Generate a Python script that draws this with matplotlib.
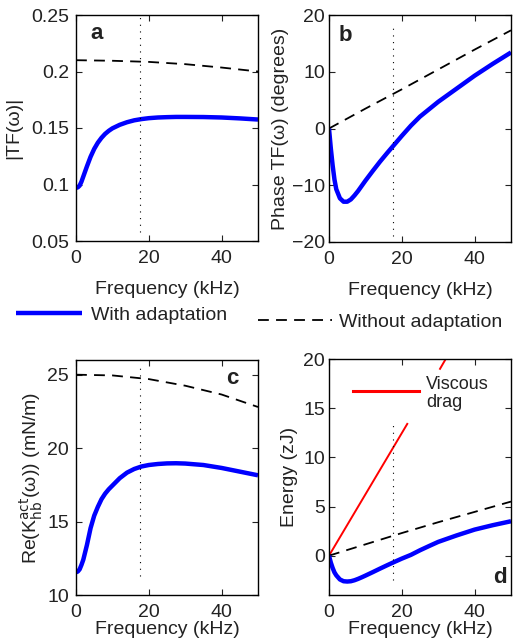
import numpy as np
import matplotlib
matplotlib.use('Agg')
import matplotlib.pyplot as plt

plt.rcParams['font.family'] = ['Liberation Sans', 'DejaVu Sans']
plt.rcParams['font.size'] = 14
plt.rcParams['text.color'] = '#222222'
plt.rcParams['axes.labelcolor'] = '#222222'
plt.rcParams['xtick.color'] = '#222222'
plt.rcParams['ytick.color'] = '#222222'

# frequencies (kHz)
f_blue = [0, 0.5, 1, 1.5, 2, 3, 4, 5, 6, 7, 8, 9, 10, 12, 14, 16, 18, 20,
          22.5, 25, 27.5, 30, 35, 40, 45, 50]
f_dash = [0, 10, 20, 30, 40, 50]
f_cut = 17.5

# a: |TF|
tf_mag_adapt = [0.097, 0.0975, 0.099, 0.1025, 0.107, 0.116, 0.1245, 0.1315, 0.137,
                0.1413, 0.1448, 0.1475, 0.1497, 0.1528, 0.1551, 0.1568, 0.1579,
                0.1587, 0.1593, 0.1596, 0.1598, 0.1598, 0.1597, 0.1593, 0.1585, 0.1575]
tf_mag_noadapt = [0.210, 0.2095, 0.2085, 0.2065, 0.2035, 0.200]

# b: phase TF (degrees)
tf_phase_adapt = [0, -3.5, -6.5, -9.0, -10.7, -12.3, -12.9, -12.9, -12.5, -11.8,
                  -11.0, -10.1, -9.2, -7.5, -5.85, -4.3, -2.8, -1.3, 0.5, 2.1,
                  3.4, 4.7, 7.0, 9.3, 11.4, 13.4]
tf_phase_noadapt = [0, 3.5, 6.9, 10.4, 13.9, 17.3]

# c: Re(K_hb^act) (mN/m)
k_adapt = [11.55, 11.6, 11.75, 12.05, 12.4, 13.4, 14.55, 15.4, 16.0, 16.52, 16.9,
           17.2, 17.45, 17.95, 18.33, 18.58, 18.75, 18.85, 18.92, 18.96, 18.97,
           18.95, 18.85, 18.65, 18.4, 18.15]
k_noadapt = [25.0, 24.95, 24.7, 24.25, 23.65, 22.8]

# d: energy (zJ)
e_adapt = [0, -0.7, -1.25, -1.7, -2.0, -2.42, -2.6, -2.63, -2.6, -2.5, -2.36,
           -2.2, -2.03, -1.68, -1.32, -0.97, -0.63, -0.3, 0.08, 0.55, 0.98,
           1.4, 2.05, 2.65, 3.1, 3.5]
e_noadapt = [0, 1.15, 2.3, 3.4, 4.45, 5.5]
f_drag = [0, 21.5, np.nan, 30.5, 33]
e_drag = [0, 13.4, np.nan, 19.0, 20.6]
f_drag_key = [6.5, 24.8]
e_drag_key = [16.7, 16.7]

fig = plt.figure(figsize=(5.13, 6.44), dpi=100)
W, H = 513, 644


def make_ax(l, t, r, b):
    return fig.add_axes([l / W, 1 - b / H, (r - l) / W, (b - t) / H])


ax_a = make_ax(76, 15, 258, 241)
ax_b = make_ax(329, 15, 511, 242)
ax_c = make_ax(76, 360, 258, 595)
ax_d = make_ax(329, 359, 511, 595)

blue_kw = dict(color='#0000ff', lw=3.2, solid_capstyle='butt', solid_joinstyle='round')
dash_kw = dict(color='black', lw=1.3, linestyle=(0, (6, 4)))
dot_kw = dict(color='black', lw=0.8, linestyle=(0, (1, 5)))

ax_a.plot(f_dash, tf_mag_noadapt, **dash_kw)
ax_a.plot(f_blue, tf_mag_adapt, **blue_kw)
ax_a.plot([f_cut, f_cut], [0.058, 0.25], **dot_kw)
ax_a.set_ylim(0.05, 0.25)
ax_a.set_yticks([0.05, 0.1, 0.15, 0.2, 0.25])
ax_a.set_yticklabels(['0.05', '0.1', '0.15', '0.2', '0.25'])
ax_a.set_ylabel('|TF(ω)|', labelpad=6)
ax_a.text(0.115, 0.92, 'a', transform=ax_a.transAxes, fontsize=16,
          fontweight='bold', ha='center', va='center')

l_noad, = ax_b.plot(f_dash, tf_phase_noadapt, **dash_kw)
l_ad, = ax_b.plot(f_blue, tf_phase_adapt, **blue_kw)
ax_b.plot([f_cut, f_cut], [-19, 18.6], **dot_kw)
ax_b.set_ylim(-20, 20)
ax_b.set_yticks([-20, -10, 0, 10, 20])
ax_b.set_yticklabels(['\u221220', '\u221210', '0', '10', '20'])
ax_b.set_ylabel('Phase TF(ω) (degrees)', labelpad=2)
ax_b.text(0.09, 0.91, 'b', transform=ax_b.transAxes, fontsize=16,
          fontweight='bold', ha='center', va='center')

ax_c.plot(f_dash, k_noadapt, **dash_kw)
ax_c.plot(f_blue, k_adapt, **blue_kw)
ax_c.plot([f_cut, f_cut], [11.3, 25.8], **dot_kw)
ax_c.set_ylim(10, 26)
ax_c.set_yticks([10, 15, 20, 25])
ax_c.set_ylabel(r'Re(K$^{\rm act}_{\rm hb}$(ω)) (mN/m)', labelpad=2)
ax_c.text(0.86, 0.92, 'c', transform=ax_c.transAxes, fontsize=16,
          fontweight='bold', ha='center', va='center')

ax_d.plot(f_drag, e_drag, color='red', lw=1.4)
ax_d.plot(f_drag_key, e_drag_key, color='red', lw=2.2)
ax_d.text(26.7, 16.5, 'Viscous\ndrag', fontsize=13, ha='left', va='center',
          linespacing=1.05)
ax_d.plot(f_dash, e_noadapt, **dash_kw)
ax_d.plot(f_blue, e_adapt, **blue_kw)
ax_d.plot([f_cut, f_cut], [-2.5, 13.3], **dot_kw)
ax_d.set_ylim(-4, 20)
ax_d.set_yticks([0, 5, 10, 15, 20])
ax_d.set_ylabel('Energy (zJ)', labelpad=4)
ax_d.text(0.94, 0.076, 'd', transform=ax_d.transAxes, fontsize=16,
          fontweight='bold', ha='center', va='center')

for ax in (ax_a, ax_b, ax_c, ax_d):
    ax.set_xlim(0, 50)
    ax.set_xticks([0, 20, 40])
    ax.tick_params(direction='in', top=True, right=True, length=4, width=0.8)
    ax.tick_params(axis='x', pad=6.5)
    for s in ax.spines.values():
        s.set_linewidth(1.0)

ax_a.tick_params(axis='y', pad=5)
ax_c.tick_params(axis='y', pad=5)
ax_b.tick_params(axis='y', pad=3)
ax_d.tick_params(axis='y', pad=3)

ax_a.set_xlabel('Frequency (kHz)', labelpad=10)
ax_b.set_xlabel('Frequency (kHz)', labelpad=10)
ax_c.set_xlabel('Frequency (kHz)', labelpad=0)
ax_d.set_xlabel('Frequency (kHz)', labelpad=0)

fig.legend(handles=[l_ad], labels=['With adaptation'], loc='center left',
           bbox_to_anchor=(16 / W, 1 - 315 / H), frameon=False, borderpad=0,
           borderaxespad=0, handlelength=3.4, handletextpad=0.45, fontsize=14)
fig.legend(handles=[l_noad], labels=['Without adaptation'], loc='center left',
           bbox_to_anchor=(258 / W, 1 - 322 / H), frameon=False, borderpad=0,
           borderaxespad=0, handlelength=3.8, handletextpad=0.35, fontsize=14)

fig.savefig('out.png', dpi=100)
